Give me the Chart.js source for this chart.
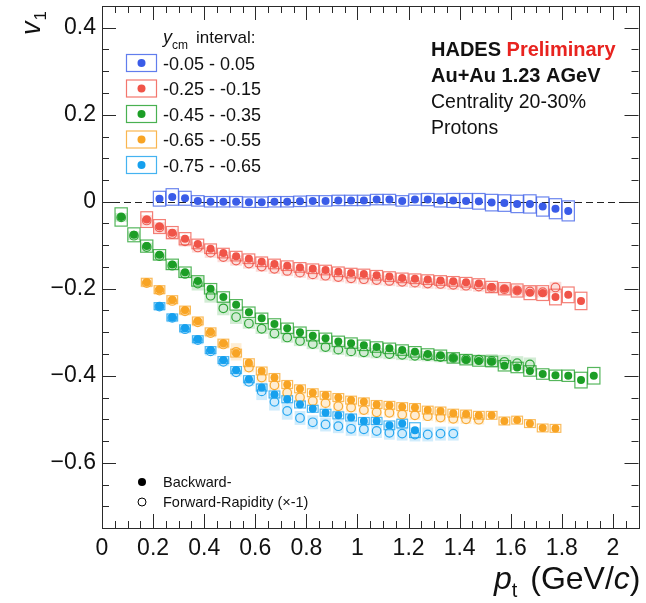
<!DOCTYPE html>
<html>
<head>
<meta charset="utf-8">
<script src="https://cdn.jsdelivr.net/npm/chart.js@4/dist/chart.umd.min.js"></script>
<style>
  html, body { margin: 0; padding: 0; background: #ffffff; }
  #wrap { width: 646px; height: 603px; position: relative; }
</style>
</head>
<body>
<div id="wrap"><canvas id="c"></canvas></div>
<script>
// ---- data -------------------------------------------------------------
const N = null;

// transverse-momentum bin centres (GeV/c)
const ptCenters = [0.075, 0.125, 0.175, 0.225, 0.275, 0.325, 0.375, 0.425, 0.475, 0.525,
                   0.575, 0.625, 0.675, 0.725, 0.775, 0.825, 0.875, 0.925, 0.975, 1.025,
                   1.075, 1.125, 1.175, 1.225, 1.275, 1.325, 1.375, 1.425, 1.475, 1.525,
                   1.575, 1.625, 1.675, 1.725, 1.775, 1.825, 1.875, 1.925];

const xTicks = [0, 0.2, 0.4, 0.6, 0.8, 1, 1.2, 1.4, 1.6, 1.8, 2];
const yTicks = [-0.6, -0.4, -0.2, 0, 0.2, 0.4];

const rapidityBins = ['-0.05 - 0.05', '-0.25 - -0.15', '-0.45 - -0.35', '-0.65 - -0.55', '-0.75 - -0.65'];

// y_cm -0.05 .. 0.05
const v1Back0 = [N, N, N, 0.007, 0.011, 0.008, 0.002, 0.000, 0.000, 0.000,
                 -0.001, -0.001, 0.000, 0.000, 0.001, 0.002, 0.002, 0.003, 0.003, 0.003,
                 0.005, 0.005, 0.002, 0.005, 0.005, 0.003, 0.003, 0.002, 0.001, -0.002,
                 -0.003, -0.005, -0.005, -0.011, -0.016, -0.021, N, N];
const sysBack0 = [N, N, N, 0.017, 0.019, 0.016, 0.012, 0.012, 0.012, 0.012,
                  0.012, 0.012, 0.012, 0.012, 0.012, 0.012, 0.012, 0.012, 0.012, 0.012,
                  0.012, 0.012, 0.012, 0.013, 0.014, 0.015, 0.016, 0.017, 0.018, 0.019,
                  0.019, 0.020, 0.021, 0.022, 0.023, 0.023, N, N];

// y_cm -0.25 .. -0.15
const v1Back1 = [N, N, -0.041, -0.057, -0.071, -0.085, -0.097, -0.108, -0.118, -0.125,
                 -0.131, -0.138, -0.143, -0.147, -0.151, -0.154, -0.157, -0.161, -0.164, -0.166,
                 -0.169, -0.172, -0.175, -0.177, -0.179, -0.181, -0.183, -0.185, -0.188, -0.196,
                 -0.200, -0.204, -0.209, -0.210, -0.219, -0.214, -0.228, N];
const sysBack1 = [N, N, 0.018, 0.016, 0.014, 0.014, 0.011, 0.011, 0.011, 0.011,
                  0.011, 0.011, 0.011, 0.011, 0.011, 0.011, 0.011, 0.011, 0.011, 0.011,
                  0.011, 0.011, 0.011, 0.011, 0.011, 0.011, 0.011, 0.011, 0.011, 0.013,
                  0.014, 0.015, 0.016, 0.017, 0.018, 0.018, 0.020, N];
const v1Fwd1 = [N, N, -0.043, -0.059, -0.074, -0.091, -0.105, -0.117, -0.127, -0.135,
                -0.142, -0.149, -0.154, -0.159, -0.163, -0.167, -0.170, -0.173, -0.176, -0.178,
                -0.180, -0.182, -0.184, -0.186, -0.188, -0.189, -0.191, -0.193, -0.195, -0.198,
                -0.201, -0.204, -0.206, -0.208, -0.197, N, N, N];
const sysFwd1 = [N, N, 0.012, 0.012, 0.012, 0.012, 0.012, 0.012, 0.012, 0.012,
                 0.012, 0.012, 0.012, 0.012, 0.012, 0.012, 0.012, 0.012, 0.012, 0.012,
                 0.012, 0.012, 0.012, 0.012, 0.012, 0.012, 0.012, 0.012, 0.012, 0.012,
                 0.012, 0.012, 0.012, 0.012, 0.013, N, N, N];

// y_cm -0.45 .. -0.35
const v1Back2 = [-0.035, -0.076, -0.102, -0.122, -0.144, -0.162, -0.182, -0.200, -0.219, -0.237,
                 -0.254, -0.268, -0.281, -0.291, -0.300, -0.308, -0.314, -0.321, -0.325, -0.330,
                 -0.334, -0.337, -0.341, -0.345, -0.350, -0.353, -0.359, -0.363, -0.366, -0.367,
                 -0.377, -0.381, -0.389, -0.396, -0.399, -0.400, -0.410, -0.400];
const sysBack2 = [0.021, 0.016, 0.014, 0.012, 0.012, 0.012, 0.012, 0.012, 0.012, 0.012,
                  0.012, 0.012, 0.012, 0.012, 0.012, 0.012, 0.012, 0.012, 0.012, 0.012,
                  0.012, 0.012, 0.012, 0.012, 0.012, 0.012, 0.012, 0.012, 0.012, 0.012,
                  0.012, 0.012, 0.012, 0.012, 0.012, 0.013, 0.018, 0.019];
const v1Fwd2 = [-0.036, -0.078, -0.104, -0.125, -0.147, -0.166, -0.188, -0.216, -0.245, -0.265,
                -0.280, -0.292, -0.303, -0.312, -0.320, -0.327, -0.334, -0.340, -0.344, -0.346,
                -0.348, -0.350, -0.352, -0.354, -0.355, -0.357, -0.359, -0.362, -0.363, -0.366,
                -0.368, -0.371, -0.374, N, N, N, N, N];
const sysFwd2 = [0.010, 0.010, 0.010, 0.010, 0.010, 0.010, 0.016, 0.016, 0.016, 0.016,
                 0.012, 0.012, 0.012, 0.012, 0.012, 0.012, 0.012, 0.012, 0.012, 0.012,
                 0.012, 0.012, 0.012, 0.012, 0.012, 0.012, 0.012, 0.012, 0.012, 0.016,
                 0.016, 0.016, 0.016, N, N, N, N, N];

// y_cm -0.65 .. -0.55
const v1Back3 = [N, N, -0.185, -0.202, -0.225, -0.249, -0.274, -0.299, -0.325, -0.348,
                 -0.370, -0.389, -0.404, -0.420, -0.430, -0.439, -0.445, -0.450, -0.456, -0.460,
                 -0.466, -0.468, -0.471, -0.473, -0.479, -0.481, -0.486, -0.488, -0.491, -0.491,
                 -0.504, -0.502, -0.510, -0.520, -0.521, N, N, N];
const sysBack3 = [N, N, 0.009, 0.009, 0.009, 0.009, 0.009, 0.009, 0.009, 0.009,
                  0.009, 0.009, 0.009, 0.009, 0.009, 0.009, 0.009, 0.009, 0.009, 0.009,
                  0.009, 0.009, 0.009, 0.009, 0.009, 0.009, 0.009, 0.009, 0.009, 0.009,
                  0.009, 0.009, 0.009, 0.009, 0.009, N, N, N];
const v1Fwd3 = [N, N, -0.187, -0.204, -0.228, -0.252, -0.277, -0.302, -0.328, -0.345,
                -0.381, -0.404, -0.422, -0.439, -0.450, -0.458, -0.463, -0.470, -0.473, -0.479,
                -0.484, -0.485, -0.489, -0.491, -0.493, -0.496, -0.499, -0.500, -0.501, N,
                N, N, N, N, N, N, N, N];
const sysFwd3 = [N, N, 0.010, 0.010, 0.010, 0.010, 0.010, 0.010, 0.010, 0.020,
                 0.011, 0.011, 0.011, 0.011, 0.011, 0.011, 0.011, 0.011, 0.011, 0.011,
                 0.011, 0.011, 0.011, 0.011, 0.011, 0.011, 0.011, 0.011, 0.011, N,
                 N, N, N, N, N, N, N, N];

// y_cm -0.75 .. -0.65
const v1Back4 = [N, N, N, -0.240, -0.266, -0.291, -0.316, -0.341, -0.364, -0.387,
                 -0.408, -0.427, -0.443, -0.454, -0.466, -0.476, -0.485, -0.491, -0.496, -0.504,
                 -0.504, -0.514, -0.510, -0.525, N, N, N, N, N, N,
                 N, N, N, N, N, N, N, N];
const sysBack4 = [N, N, N, 0.008, 0.008, 0.008, 0.008, 0.008, 0.008, 0.008,
                  0.008, 0.008, 0.008, 0.008, 0.008, 0.008, 0.008, 0.008, 0.008, 0.008,
                  0.008, 0.010, 0.010, 0.017, N, N, N, N, N, N,
                  N, N, N, N, N, N, N, N];
const v1Fwd4 = [N, N, N, -0.241, -0.267, -0.293, -0.318, -0.344, -0.368, -0.392,
                -0.414, -0.436, -0.460, -0.481, -0.497, -0.507, -0.512, -0.516, -0.522, -0.523,
                -0.527, -0.531, -0.533, -0.535, -0.535, -0.533, -0.533, N, N, N,
                N, N, N, N, N, N, N, N];
const sysFwd4 = [N, N, N, 0.010, 0.010, 0.010, 0.010, 0.010, 0.010, 0.010,
                 0.010, 0.020, 0.020, 0.020, 0.016, 0.016, 0.016, 0.016, 0.016, 0.016,
                 0.016, 0.016, 0.016, 0.016, 0.016, 0.016, 0.016, N, N, N,
                 N, N, N, N, N, N, N, N];

// ---- styling ----------------------------------------------------------
const FONT = "'Liberation Sans', Arial, Helvetica, sans-serif";
const binColors = [[58, 92, 232], [240, 84, 72], [28, 158, 38], [248, 164, 36], [22, 160, 238]];
const boxHalfWidth = [0.024, 0.023, 0.024, 0.021, 0.021];

const series = [
  { back: v1Back0, backSys: sysBack0, fwd: null,   fwdSys: null },
  { back: v1Back1, backSys: sysBack1, fwd: v1Fwd1, fwdSys: sysFwd1 },
  { back: v1Back2, backSys: sysBack2, fwd: v1Fwd2, fwdSys: sysFwd2 },
  { back: v1Back3, backSys: sysBack3, fwd: v1Fwd3, fwdSys: sysFwd3 },
  { back: v1Back4, backSys: sysBack4, fwd: v1Fwd4, fwdSys: sysFwd4 }
];

const rgba = (c, a) => `rgba(${c[0]},${c[1]},${c[2]},${a})`;
const toPoints = arr => ptCenters.map((x, i) => ({ x, y: arr[i] })).filter(p => p.y !== null);

// backward points first so they are painted on top
const datasets = [];
series.forEach((s, k) => {
  datasets.push({
    label: rapidityBins[k] + ' backward',
    data: toPoints(s.back),
    pointRadius: 4, pointHoverRadius: 4,
    backgroundColor: rgba(binColors[k], 1),
    borderColor: rgba(binColors[k], 1),
    borderWidth: 0,
    showLine: false
  });
});
series.forEach((s, k) => {
  if (!s.fwd) return;
  datasets.push({
    label: rapidityBins[k] + ' forward',
    data: toPoints(s.fwd),
    pointRadius: 4.3, pointHoverRadius: 4.3,
    backgroundColor: 'rgba(0,0,0,0)',
    borderColor: rgba(binColors[k], 0.9),
    borderWidth: 1.2,
    showLine: false
  });
});

// systematic boxes and the zero line, drawn under the markers
const systematicsPlugin = {
  id: 'systematics',
  beforeDatasetsDraw(chart) {
    const { ctx, chartArea: a, scales: { x: xs, y: ys } } = chart;
    ctx.save();
    ctx.beginPath();
    ctx.rect(a.left, a.top, a.right - a.left, a.bottom - a.top);
    ctx.clip();

    // reference line at v1 = 0
    ctx.setLineDash([7, 4]);
    ctx.strokeStyle = '#222';
    ctx.lineWidth = 1;
    const y0 = Math.round(ys.getPixelForValue(0)) + 0.5;
    ctx.beginPath();
    ctx.moveTo(xs.getPixelForValue(xs.min), y0);
    ctx.lineTo(xs.getPixelForValue(xs.max), y0);
    ctx.stroke();
    ctx.setLineDash([]);

    const box = (x, y, hw, hh) => {
      const l = xs.getPixelForValue(x - hw), r = xs.getPixelForValue(x + hw);
      const t = ys.getPixelForValue(y + hh), b = ys.getPixelForValue(y - hh);
      return [l, t, r - l, b - t];
    };

    // forward-rapidity systematics: shaded boxes
    series.forEach((s, k) => {
      if (!s.fwd) return;
      ctx.fillStyle = rgba(binColors[k], 0.2);
      ptCenters.forEach((x, i) => {
        if (s.fwd[i] === null) return;
        const [l, t, w, h] = box(x, s.fwd[i], boxHalfWidth[k], s.fwdSys[i]);
        ctx.fillRect(l, t, w, h);
      });
    });

    // backward-rapidity systematics: open boxes
    ctx.lineWidth = 1.2;
    series.forEach((s, k) => {
      ctx.strokeStyle = rgba(binColors[k], 0.75);
      ptCenters.forEach((x, i) => {
        if (s.back[i] === null) return;
        const [l, t, w, h] = box(x, s.back[i], boxHalfWidth[k], s.backSys[i]);
        ctx.strokeRect(l, t, w, h);
      });
    });
    ctx.restore();
  }
};

// frame with inward ticks on all four sides, titles and legends
const framePlugin = {
  id: 'frame',
  afterDraw(chart) {
    const { ctx, chartArea: a, scales: { x: xs, y: ys } } = chart;
    const major = 14, minor = 7;
    ctx.save();
    ctx.strokeStyle = '#2a2a2a';
    ctx.lineWidth = 1;
    ctx.strokeRect(Math.round(a.left) + 0.5, Math.round(a.top) + 0.5,
                   Math.round(a.right - a.left), Math.round(a.bottom - a.top));

    ctx.beginPath();
    // x ticks: majors every 0.2, three minors between
    for (let m = 0; m <= 42; m++) {
      const v = m * 0.05;
      if (v > xs.max + 1e-9) break;
      const len = (m % 4 === 0) ? major : minor;
      const px = Math.round(xs.getPixelForValue(v)) + 0.5;
      ctx.moveTo(px, a.bottom); ctx.lineTo(px, a.bottom - len);
      ctx.moveTo(px, a.top); ctx.lineTo(px, a.top + len);
    }
    // y ticks
    for (let m = -15; m <= 9; m++) {
      const v = m * 0.05;
      if (v < ys.min - 1e-9 || v > ys.max + 1e-9) continue;
      const len = (((m % 4) + 4) % 4 === 0) ? major : minor;
      const py = Math.round(ys.getPixelForValue(v)) + 0.5;
      ctx.moveTo(a.left, py); ctx.lineTo(a.left + len, py);
      ctx.moveTo(a.right, py); ctx.lineTo(a.right - len, py);
    }
    ctx.stroke();

    ctx.fillStyle = '#111';
    ctx.textBaseline = 'alphabetic';

    // y-axis title v_1 (rotated)
    ctx.save();
    ctx.translate(40, 35);
    ctx.rotate(-Math.PI / 2);
    ctx.font = `italic 27px ${FONT}`;
    ctx.textAlign = 'left';
    ctx.fillText('v', 0, 0);
    const vw = ctx.measureText('v').width;
    ctx.font = `17px ${FONT}`;
    ctx.fillText('1', vw + 1, 6);
    ctx.restore();

    // x-axis title p_t (GeV/c)
    const parts = [
      { t: 'p', f: `italic 32px ${FONT}`, dy: 0, gap: 0 },
      { t: 't', f: `20px ${FONT}`, dy: 8, gap: 0 },
      { t: ' (GeV/', f: `32px ${FONT}`, dy: 0, gap: 4 },
      { t: 'c', f: `italic 32px ${FONT}`, dy: 0, gap: 0 },
      { t: ')', f: `32px ${FONT}`, dy: 0, gap: 0 }
    ];
    let cx = 494;
    ctx.textAlign = 'left';
    parts.forEach(p => {
      ctx.font = p.f;
      cx += p.gap;
      ctx.fillText(p.t, cx, 589 + p.dy);
      cx += ctx.measureText(p.t).width;
    });

    // rapidity legend
    ctx.font = `italic 18px ${FONT}`;
    ctx.fillText('y', 163, 43);
    ctx.font = `12px ${FONT}`;
    ctx.fillText('cm', 172, 49);
    ctx.font = `17px ${FONT}`;
    ctx.fillText('interval:', 196, 43);
    rapidityBins.forEach((lab, k) => {
      const cy = 63 + k * 25.5;
      ctx.strokeStyle = rgba(binColors[k], 0.8);
      ctx.lineWidth = 1.2;
      ctx.strokeRect(126.5, cy - 8.5, 30, 17);
      ctx.fillStyle = rgba(binColors[k], 1);
      ctx.beginPath(); ctx.arc(141.5, cy, 4, 0, Math.PI * 2); ctx.fill();
      ctx.fillStyle = '#111';
      ctx.font = `18px ${FONT}`;
      ctx.fillText(lab, 163, cy + 6.5);
    });

    // marker legend
    ctx.fillStyle = '#000';
    ctx.beginPath(); ctx.arc(142, 482, 4, 0, Math.PI * 2); ctx.fill();
    ctx.strokeStyle = '#000'; ctx.lineWidth = 1;
    ctx.beginPath(); ctx.arc(142, 502, 4, 0, Math.PI * 2); ctx.stroke();
    ctx.fillStyle = '#111';
    ctx.font = `14.5px ${FONT}`;
    ctx.fillText('Backward-', 163, 487);
    ctx.fillText('Forward-Rapidity (\u00d7-1)', 163, 507);

    // collaboration / system labels
    ctx.font = `bold 20px ${FONT}`;
    ctx.fillStyle = '#111';
    ctx.fillText('HADES', 431, 56);
    const hw = ctx.measureText('HADES ').width;
    ctx.fillStyle = '#e8231f';
    ctx.fillText('Preliminary', 431 + hw, 56);
    ctx.fillStyle = '#111';
    ctx.fillText('Au+Au 1.23 AGeV', 431, 82);
    ctx.font = `19.5px ${FONT}`;
    ctx.fillText('Centrality 20-30%', 431, 108);
    ctx.fillText('Protons', 431, 134);
    ctx.restore();
  }
};

const fmt = v => {
  if (Math.abs(v) < 1e-9) return '0';
  const s = Math.abs(v).toFixed(1).replace(/\.0$/, '');
  return (v < 0 ? '\u2212' : '') + s;
};

new Chart(document.getElementById('c'), {
  type: 'scatter',
  data: { datasets },
  options: {
    responsive: true,
    maintainAspectRatio: false,
    animation: false,
    devicePixelRatio: 1,
    layout: { padding: { left: 0, top: 6, right: 7.5, bottom: 0 } },
    plugins: { legend: { display: false }, tooltip: { enabled: false } },
    scales: {
      x: {
        type: 'linear', min: 0, max: 2.1,
        grid: { display: false, drawTicks: false },
        border: { display: false },
        afterBuildTicks: s => { s.ticks = xTicks.map(v => ({ value: v })); },
        afterFit: s => { s.height = 75; s.paddingLeft = 0; s.paddingRight = 0; },
        ticks: { font: { family: FONT, size: 23 }, color: '#111', padding: 7, maxRotation: 0,
                 autoSkip: false, callback: v => fmt(v) }
      },
      y: {
        type: 'linear', min: -0.75, max: 0.45,
        grid: { display: false, drawTicks: false },
        border: { display: false },
        afterBuildTicks: s => { s.ticks = yTicks.map(v => ({ value: v })); },
        afterFit: s => { s.width = 102; s.paddingTop = 0; s.paddingBottom = 0; },
        ticks: { font: { family: FONT, size: 23 }, color: '#111', padding: 6,
                 autoSkip: false, callback: v => fmt(v) }
      }
    }
  },
  plugins: [systematicsPlugin, framePlugin]
});
</script>
</body>
</html>
